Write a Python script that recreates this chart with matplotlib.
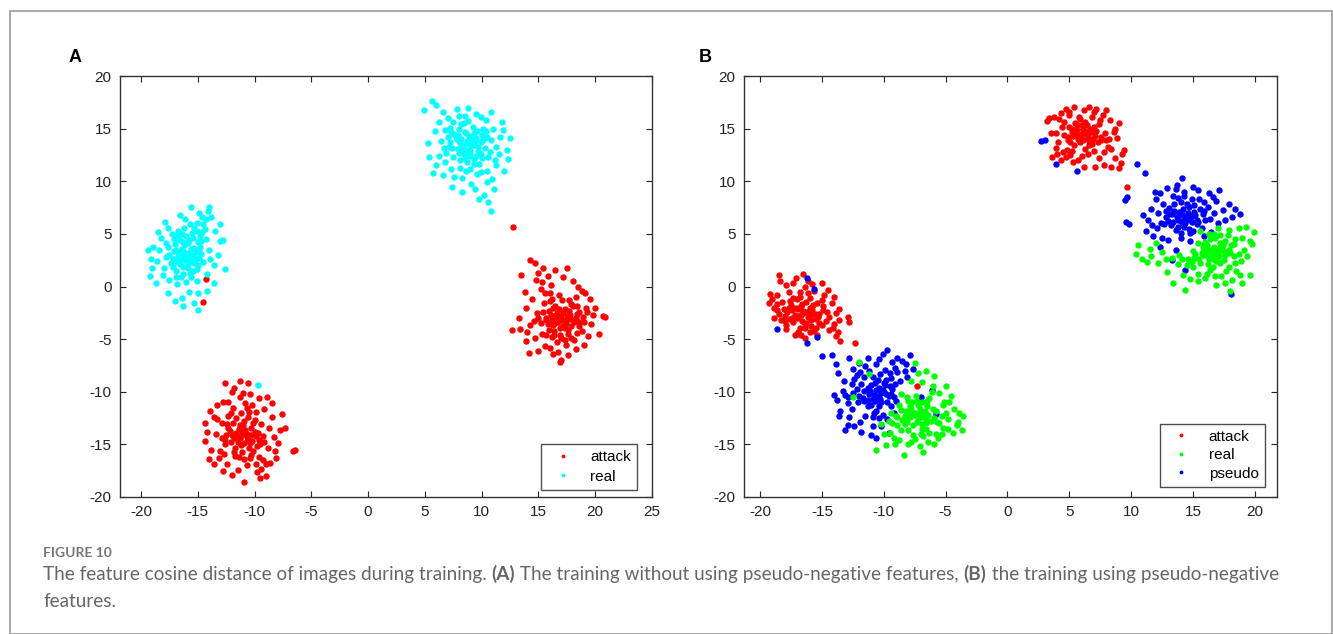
import numpy as np
import matplotlib
matplotlib.use('Agg')
import matplotlib.pyplot as plt
from matplotlib.patches import Rectangle

# ===== 数据：各簇散点 =====
# (A) 不使用伪负特征
a_real = [(-16.0,3.0),(-15.6,2.4),(-16.4,3.6),(-15.2,3.3),(-16.8,2.7),(-15.9,4.1),(-16.3,1.9),(-15.0,2.0),(-17.1,3.4),(-15.4,4.6),
          (-16.6,4.4),(-14.8,3.8),(-17.4,2.2),(-15.7,1.3),(-16.9,1.5),(-14.6,5.2),(-14.3,6.4),(-14.1,7.2),(-14.0,7.6),(-14.5,5.9),
          (-15.1,6.0),(-16.2,5.6),(-17.3,5.0),(-17.8,4.1),(-18.4,3.5),(-18.9,3.8),(-19.4,3.5),(-18.6,2.4),(-19.0,1.8),(-18.1,1.1),
          (-17.5,0.6),(-16.8,0.2),(-16.0,0.4),(-15.1,0.5),(-14.2,1.2),(-13.6,2.0),(-13.2,3.0),(-13.0,4.3),(-13.5,5.3),(-13.8,6.6),
          (-15.6,7.6),(-16.6,6.8),(-17.9,6.1),(-18.5,5.2),(-19.1,2.6),(-18.7,0.3),(-17.6,-0.6),(-16.4,-1.1),(-15.3,-1.6),(-15.0,-2.2),
          (-15.8,-0.5),(-14.2,-0.4),(-13.6,0.3),(-12.6,1.7),(-12.8,4.4),(-13.0,5.9),(-16.3,-1.9),(-17.0,-1.4),(-19.2,1.0),(-15.5,5.1),
          (-16.7,5.3),(-15.3,3.7),(-16.1,2.5),(-15.8,3.2),(-16.5,2.9),(-15.5,2.7),(-16.2,3.9),(-14.9,2.7),(-17.0,4.0),(-15.9,1.8),
          (-15.3,2.2),(-16.6,2.1),(-17.5,3.0),(-14.7,3.1),(-16.0,4.8),(-15.0,4.2),(-16.9,3.5),(-16.3,1.2),(-15.4,1.5),(-14.5,2.3),
          (-17.8,2.8),(-16.7,4.9),(-15.7,5.9),(-14.8,4.8),(-17.2,1.9),(-15.6,0.9),(-14.0,3.5),(-16.5,0.9),(-17.6,3.8),(-15.1,5.3),
          (-14.3,4.5),(-16.9,0.9),(-13.9,2.6),(-18.0,1.8),(-15.0,-0.6),(-17.6,5.6),(-14.6,6.6),(-14.9,7.0),(-16.1,6.4),(-18.2,4.6),
          (8.6,13.5),(8.2,14.0),(9.0,13.0),(8.9,14.3),(7.9,13.1),(9.4,13.8),(8.4,12.6),(7.6,14.5),(9.7,12.9),(8.0,15.0),
          (9.2,15.2),(10.0,14.4),(7.2,13.7),(10.3,13.2),(8.7,11.8),(7.5,12.3),(9.8,11.6),(6.8,14.9),(6.4,13.8),(7.0,16.0),
          (6.0,17.2),(5.6,17.6),(4.9,16.8),(6.6,16.6),(7.8,16.9),(8.8,17.0),(9.5,16.4),(10.4,15.8),(11.0,15.0),(11.6,14.2),
          (12.5,14.1),(12.2,13.0),(11.5,12.6),(11.3,11.5),(12.0,11.0),(10.9,10.2),(11.1,9.3),(10.5,9.9),(10.2,8.7),(10.6,8.0),
          (10.8,7.2),(9.6,10.7),(9.1,9.7),(8.3,10.3),(7.4,9.5),(6.6,10.6),(6.0,11.5),(5.7,10.8),(6.2,12.4),(5.3,13.6),
          (5.9,14.8),(7.3,11.2),(8.6,11.0),(9.9,10.9),(12.3,12.1),(11.8,15.6),(10.8,16.6),(7.5,15.6),(8.5,16.2),(9.3,12.1),
          (8.1,12.0),(10.6,12.3),(10.1,15.0),(6.9,12.7),(8.5,14.7),(9.1,14.0),(8.0,13.8),(9.6,14.8),(8.9,12.4),(7.7,14.2),
          (8.3,13.2),(9.3,13.4),(8.8,12.9),(7.9,14.4),(8.4,15.5),(9.9,13.7),(10.5,14.2),(7.4,13.2),(9.5,12.4),(8.1,11.3),
          (10.8,13.9),(9.0,11.2),(7.0,14.2),(6.2,15.6),(10.5,11.0),(11.3,13.3),(7.6,10.4),(9.9,16.1),(8.0,16.2),(6.8,11.8),
          (11.9,14.9),(9.4,9.3),(5.4,12.3),(6.7,13.2),(10.0,12.2),(8.8,15.7),(7.2,15.1),(11.2,12.0),(8.3,9.0),(9.8,8.3),
          (-9.7,-9.4)]
a_real_core = [(-15.7,2.8),(-16.2,3.3),(-15.4,3.0),(-16.0,2.5),(-16.4,2.6),(-15.6,3.6),(-15.2,2.6),(-16.7,3.2),(-15.8,4.4),(-16.3,4.2),
               (-14.9,3.4),(-15.9,2.1),(-16.8,2.3),(-15.1,1.7),(-14.7,4.3),(-17.2,2.6),(-16.4,5.0),(-15.3,5.6),(-14.4,5.5),(-17.1,4.5),
               (8.7,13.8),(9.1,13.4),(8.4,13.0),(9.5,14.1),(8.1,13.6),(9.0,12.6),(9.7,13.3),(8.6,14.6),(8.0,12.7),(10.1,13.9),
               (9.3,14.6),(7.8,14.0),(9.9,12.6),(8.5,12.2),(7.3,14.7),(10.4,14.8),(7.1,13.3),(9.3,11.6),(10.7,12.8),(8.2,15.4)]

a_attack = [(-11.0,-14.0),(-11.4,-13.5),(-10.6,-14.6),(-11.8,-14.4),(-10.3,-13.4),(-11.2,-15.1),(-10.9,-12.8),(-12.2,-13.7),(-9.9,-14.2),(-11.6,-12.5),
            (-10.1,-15.6),(-12.6,-15.0),(-12.9,-13.0),(-9.4,-13.1),(-10.5,-11.9),(-11.9,-11.5),(-13.4,-14.0),(-13.6,-12.4),(-14.2,-13.8),(-13.8,-15.5),
            (-13.1,-16.3),(-12.4,-16.9),(-11.5,-17.4),(-10.7,-17.0),(-9.8,-17.6),(-9.0,-18.0),(-10.9,-18.6),(-9.3,-16.5),(-8.6,-16.8),(-8.8,-15.3),
            (-8.3,-14.3),(-7.8,-13.6),(-8.5,-12.4),(-9.2,-11.6),(-9.6,-10.6),(-10.4,-10.2),(-11.3,-10.5),(-12.0,-10.0),(-12.8,-11.0),(-13.9,-11.8),
            (-12.6,-9.2),(-11.3,-9.0),(-10.6,-9.2),(-8.9,-10.5),(-7.6,-12.1),(-7.3,-13.4),(-7.9,-14.9),(-8.1,-16.3),(-6.4,-15.5),(-6.6,-15.6),
            (-12.0,-17.9),(-14.0,-16.4),(-14.4,-13.0),(-12.3,-12.3),(-10.0,-12.7),(-9.5,-15.0),(-11.7,-16.1),(-10.4,-16.3),(-12.9,-14.4),(-11.0,-13.2),
            (-10.7,-14.0),(-11.5,-14.8),(-10.2,-14.7),(-11.9,-13.0),(-9.7,-13.9),(-10.8,-11.1),(-12.5,-14.1),(-9.9,-16.9),(-13.3,-11.3),
            (-10.8,-13.6),(-11.6,-13.9),(-10.4,-14.9),(-11.3,-14.4),(-10.0,-13.8),(-12.1,-14.8),(-11.1,-15.7),(-10.6,-12.4),(-12.4,-13.1),(-9.6,-14.6),
            (-11.8,-15.7),(-9.2,-14.8),(-12.1,-12.0),(-10.9,-16.4),(-13.0,-15.6),(-10.2,-11.3),(-13.3,-12.6),(-8.7,-13.4),(-9.9,-11.9),(-12.8,-17.5),
            (-9.5,-18.2),(-8.2,-15.6),(-11.0,-10.1),(-9.0,-16.9),(-13.6,-16.9),(-8.5,-11.1),(-12.3,-11.0),(-9.4,-17.3),(-14.4,-14.7),(-11.8,-9.6),
            (17.0,-3.0),(16.6,-2.5),(17.4,-3.5),(16.2,-3.2),(17.8,-2.7),(16.9,-3.9),(17.3,-2.1),(16.4,-4.2),(18.1,-3.4),(15.9,-2.3),
            (17.6,-4.5),(16.0,-1.4),(15.6,-0.6),(15.3,0.4),(15.0,1.3),(14.7,2.2),(14.3,2.5),(15.4,1.8),(16.1,0.1),(16.8,-0.8),
            (17.7,-1.3),(18.4,-1.9),(18.5,0.0),(18.0,0.5),(19.1,-0.6),(19.3,-2.4),(20.0,-2.0),(20.7,-2.8),(19.6,-3.6),(19.4,-4.7),
            (19.0,-5.6),(18.3,-5.9),(17.6,-6.5),(17.0,-7.0),(16.3,-6.4),(15.6,-5.7),(15.0,-6.1),(14.2,-6.3),(14.7,-4.9),(14.0,-4.3),
            (13.4,-4.0),(12.7,-4.1),(13.3,-3.0),(13.9,-2.0),(14.4,-1.2),(13.8,-0.5),(13.5,1.1),(15.2,-3.5),(15.7,-4.6),(16.6,-5.3),
            (17.9,-4.9),(18.8,-4.2),(18.9,-2.9),(16.5,1.6),(17.5,1.8),(19.5,-1.2),(20.3,-4.5),(16.9,-7.2),(14.9,-2.5),(15.5,-1.6),
            (16.4,-2.8),(17.2,-2.5),(16.7,-3.4),(17.5,-3.1),(16.3,-2.0),(16.9,-4.6),(18.0,-1.9),(15.7,-3.0),(18.6,-3.8),(20.9,-2.9),
            (16.8,-2.8),(17.3,-3.9),(16.3,-3.7),(17.7,-2.3),(16.5,-1.9),(18.3,-3.0),(15.8,-3.6),(17.0,-4.9),(17.9,-3.8),(15.4,-2.4),
            (16.2,-4.8),(18.6,-2.4),(16.0,-0.6),(15.2,-0.2),(17.4,-5.6),(19.0,-3.4),(14.6,-3.3),(18.3,-1.0),(16.7,-6.2),(14.8,0.6),
            (17.1,-1.3),(19.8,-2.7),(15.3,-4.5),(18.1,-5.1),(14.3,-3.7),(15.8,1.0),(18.8,-0.4),(16.0,-5.8),(17.2,0.9),(13.9,-5.2),
            (12.8,5.7),(-14.3,0.7),(-14.5,-1.5)]
a_attack_core = [(-11.1,-13.8),(-10.7,-14.3),(-11.5,-14.2),(-10.9,-14.9),(-11.3,-13.2),(-10.3,-14.1),(-12.0,-14.1),(-10.5,-15.3),(-11.7,-15.3),(-10.1,-13.0),
                 (-12.3,-13.4),(-9.8,-15.2),(-11.4,-16.2),(-10.3,-16.0),(-12.6,-14.6),(-9.3,-14.2),(-11.2,-12.0),(-12.7,-15.9),(-9.6,-16.2),(-10.7,-11.5),
                 (17.1,-3.2),(16.7,-3.0),(17.5,-2.8),(16.5,-3.5),(17.2,-3.8),(17.9,-3.1),(16.1,-2.7),(16.8,-2.1),(17.6,-4.1),(16.4,-4.6),
                 (18.4,-2.6),(15.7,-3.2),(17.9,-1.7),(15.9,-4.1),(18.6,-3.4),(16.2,-1.2),(17.3,-5.1),(19.2,-2.0),(15.0,-3.0),(18.4,-4.4)]

# (B) 使用伪负特征
b_attack = [(-16.5,-2.5),(-16.9,-2.1),(-16.1,-2.9),(-17.2,-2.7),(-15.8,-2.2),(-16.6,-3.3),(-17.5,-1.8),(-15.5,-3.1),(-16.3,-1.5),(-17.8,-2.4),
            (-15.2,-2.6),(-16.8,-3.9),(-18.2,-1.5),(-18.6,-0.8),(-19.2,-0.7),(-18.9,-2.0),(-18.3,-3.2),(-17.9,-4.0),(-17.2,-4.6),(-16.4,-4.9),
            (-15.6,-4.2),(-15.0,-3.7),(-14.4,-4.1),(-13.7,-4.3),(-13.6,-3.2),(-13.6,-2.1),(-14.2,-1.6),(-14.8,-0.8),(-15.6,-0.4),(-16.4,0.0),
            (-17.3,0.3),(-17.9,0.1),(-18.5,1.1),(-16.5,1.2),(-16.1,0.5),(-15.0,0.3),(-14.5,-0.3),(-19.3,-1.6),(-18.0,-3.3),(-17.0,-1.2),
            (-16.0,-1.1),(-14.9,-1.9),(-14.4,-2.9),(-15.9,-3.8),(-16.9,-4.3),(-18.5,-2.6),(-17.6,-3.1),(-15.4,-1.6),(-14.0,-3.6),(-13.9,-4.7),
            (-16.7,-1.9),(-16.2,-2.4),(-17.0,-3.0),(-15.9,-2.7),(-16.4,-3.6),(-17.4,-2.2),
            (-16.7,-2.7),(-16.0,-2.0),(-17.3,-3.4),(-15.5,-2.6),(-17.6,-1.4),(-16.4,-3.9),(-15.2,-3.5),(-18.1,-2.1),(-16.8,-1.0),(-15.0,-1.3),
            (-17.0,-4.5),(-18.6,-1.7),(-14.6,-2.4),(-16.1,-0.6),(-17.7,-0.5),(-14.1,-3.9),(-18.9,-3.0),(-15.4,-4.6),(-17.1,0.8),(-14.0,-1.0),
            (-18.4,0.5),(-16.7,-4.6),(-13.9,-2.5),(-19.0,-1.2),(-15.8,0.2),
            (-12.9,-2.9),(-12.8,-3.4),(-13.5,-5.2),(-12.3,-5.4),(-7.3,-9.5),(9.7,9.5),
            (6.0,14.5),(5.6,14.9),(6.4,14.1),(5.3,14.3),(6.7,15.0),(5.9,13.7),(6.3,15.6),(5.0,15.2),(7.1,14.3),(5.4,13.4),
            (6.8,13.5),(4.6,14.4),(7.4,15.4),(4.2,15.9),(3.8,16.1),(3.2,15.7),(3.5,14.6),(4.1,13.7),(4.5,12.8),(3.6,12.3),
            (4.3,12.0),(5.1,12.5),(5.7,12.0),(6.5,12.6),(6.2,11.4),(7.1,11.4),(7.8,11.5),(8.4,11.4),(9.0,11.3),(8.7,12.2),
            (9.3,12.6),(8.4,13.1),(7.8,12.8),(7.6,13.9),(8.2,14.0),(8.6,14.7),(9.0,15.5),(8.3,15.8),(7.7,16.3),(7.0,16.6),
            (6.2,16.8),(5.4,17.1),(4.7,16.9),(5.0,16.3),(4.3,16.5),(5.8,16.1),(7.2,16.9),(8.7,15.0),(3.9,13.2),(9.4,13.0),
            (5.7,14.0),(6.5,14.7),(6.1,13.9),(5.5,15.5),(6.9,14.0),(4.8,13.0),(6.0,15.3),
            (6.2,14.8),(5.7,14.2),(6.6,13.8),(5.2,15.0),(7.0,15.2),(5.9,15.9),(4.9,13.9),(7.3,13.7),(6.3,13.1),(4.4,15.2),
            (7.9,14.6),(5.0,16.6),(6.8,16.1),(3.9,14.6),(8.1,13.3),(6.0,12.4),(4.7,12.3),(7.4,12.2),(8.9,14.1),(3.4,16.0),
            (6.6,17.1),(8.0,16.8),(5.3,11.8),(9.2,11.7),(4.0,12.6)]
b_attack_core = [(-16.5,-2.3),(-16.9,-2.8),(-16.1,-2.5),(-17.1,-2.0),(-15.9,-3.2),(-16.6,-1.7),(-17.4,-3.0),(-15.7,-1.8),(-16.3,-3.5),(-17.7,-2.0),
                 (-15.3,-2.9),(-17.3,-1.1),(-18.0,-2.8),(-15.5,-3.9),(-16.8,-0.5),(-14.9,-2.2),(-17.9,-3.7),(-14.7,-3.3),(-18.6,-2.2),(-16.0,-4.3),
                 (5.9,14.4),(6.3,14.6),(5.5,14.6),(6.1,15.0),(6.5,14.3),(5.8,13.9),(6.8,14.7),(5.2,14.7),(6.4,15.3),(5.6,15.3),
                 (7.2,14.8),(6.6,13.4),(5.1,13.7),(7.6,14.2),(4.6,15.6),(7.5,15.8),(5.2,12.9),(8.0,13.9),(4.9,14.2),(7.0,12.9)]

b_real = [(-7.5,-12.0),(-7.1,-11.6),(-7.9,-12.4),(-6.8,-12.3),(-8.2,-11.8),(-7.3,-12.9),(-6.5,-11.4),(-8.5,-12.7),(-7.7,-11.0),(-6.2,-12.8),
          (-8.8,-11.3),(-6.9,-13.5),(-8.0,-13.6),(-5.8,-11.8),(-9.0,-12.3),(-7.4,-10.4),(-6.3,-10.6),(-5.5,-10.1),(-5.0,-9.5),(-4.6,-10.4),
          (-4.3,-11.6),(-3.6,-12.3),(-4.1,-13.2),(-4.4,-13.9),(-5.2,-13.4),(-5.6,-14.4),(-6.4,-14.8),(-7.1,-15.2),(-8.0,-15.0),(-8.8,-14.6),
          (-9.8,-15.1),(-10.6,-15.5),(-9.5,-13.9),(-10.2,-13.1),(-9.6,-12.8),(-8.6,-10.2),(-7.8,-9.0),(-7.2,-8.2),(-7.5,-7.3),(-6.6,-8.0),
          (-5.9,-8.5),(-6.0,-9.5),(-5.3,-12.3),(-4.8,-12.6),(-4.0,-12.9),(-3.7,-13.6),(-6.8,-14.2),(-7.6,-14.1),(-5.9,-15.0),(-8.4,-16.0),
          (-11.2,-8.3),(-12.0,-7.2),(-12.5,-10.5),(-6.9,-11.0),(-7.2,-12.5),(-7.9,-11.4),(-6.6,-13.0),(-8.3,-13.1),(-5.1,-11.0),(-9.2,-14.4),
          (-7.6,-12.2),(-7.0,-11.9),(-8.1,-12.9),(-6.6,-12.7),(-7.8,-11.6),(-6.9,-13.1),(-6.0,-11.6),(-8.6,-11.7),(-7.3,-10.9),(-5.7,-12.9),
          (-8.9,-13.2),(-6.3,-13.9),(-7.5,-14.5),(-5.2,-11.3),(-9.4,-12.0),(-4.8,-13.5),(-6.1,-10.0),(-8.1,-10.5),(-5.3,-14.0),(-9.1,-15.0),
          (-3.9,-12.0),(-6.9,-9.1),(-4.7,-11.0),(-10.0,-14.0),(-6.8,-15.7),
          (16.5,3.5),(16.9,3.1),(16.1,3.9),(17.3,3.7),(15.7,3.2),(16.6,2.6),(17.6,4.3),(15.4,4.1),(16.2,2.1),(18.0,3.2),
          (15.1,2.7),(17.2,2.2),(18.4,4.5),(17.9,5.4),(18.7,5.6),(19.3,5.7),(19.6,4.3),(19.1,3.5),(18.9,2.4),(18.5,1.5),
          (18.2,0.6),(17.6,0.3),(16.8,1.0),(16.0,0.8),(15.4,1.2),(14.8,0.7),(14.4,-0.3),(13.4,0.3),(12.9,1.4),(12.2,2.2),
          (11.6,2.9),(10.9,2.6),(10.4,3.1),(10.6,3.9),(11.5,3.6),(12.5,3.3),(13.8,2.1),(14.6,2.6),(15.0,1.9),(19.0,0.3),
          (19.6,1.1),(18.0,-0.4),(17.0,5.6),(16.3,5.0),(15.6,5.3),(19.8,4.0),(17.7,1.5),(16.4,1.6),(13.3,2.7),(12.0,4.1),
          (16.7,3.8),(17.1,2.9),(16.0,3.0),(17.5,3.4),(15.8,3.8),(16.8,4.6),(18.3,2.9),
          (16.4,3.3),(17.0,3.6),(15.9,3.5),(17.6,3.0),(16.3,2.6),(17.2,4.1),(15.5,2.6),(18.1,3.9),(16.6,1.9),(15.0,3.4),
          (18.4,2.2),(17.8,4.9),(14.5,2.0),(19.0,4.6),(16.7,5.0),(13.9,3.0),(17.3,1.0),(19.4,2.9),(15.4,0.5),(18.8,1.1),
          (12.8,2.6),(16.9,0.1),(11.3,2.3),(14.2,1.1),(19.9,5.2)]
b_real_core = [(-7.4,-12.1),(-7.0,-12.4),(-7.8,-12.0),(-6.7,-11.8),(-7.2,-11.3),(-8.3,-12.3),(-6.4,-12.2),(-7.6,-13.2),(-6.6,-13.5),(-8.6,-13.6),
               (-5.9,-12.5),(-7.0,-14.0),(-8.0,-10.9),(-5.5,-13.0),(-6.5,-10.9),(-9.3,-13.0),(-5.0,-12.0),(-7.8,-14.8),(-5.8,-14.0),(-8.9,-12.4),
               (16.6,3.3),(16.2,3.5),(17.0,3.3),(16.5,2.9),(17.4,3.9),(15.8,3.0),(16.9,2.4),(16.0,4.2),(17.9,3.5),(15.2,3.1),
               (17.5,2.5),(16.4,4.5),(18.3,4.0),(15.6,2.2),(18.7,3.1),(14.9,2.3),(17.2,4.9),(17.9,1.9),(14.1,2.6),(16.1,1.2)]

b_pseudo = [(-10.0,-10.0),(-10.4,-9.6),(-9.6,-10.4),(-10.8,-10.3),(-9.3,-9.7),(-10.2,-11.0),(-11.0,-9.4),(-9.8,-8.9),(-11.3,-10.8),(-9.0,-10.9),
            (-10.6,-11.8),(-11.6,-9.9),(-10.9,-8.6),(-9.5,-8.2),(-8.7,-9.0),(-8.3,-8.0),(-8.5,-7.1),(-9.3,-7.2),(-10.1,-6.4),(-10.6,-7.4),
            (-11.5,-7.6),(-12.2,-8.4),(-12.6,-9.3),(-13.3,-9.9),(-13.8,-10.8),(-13.5,-11.8),(-12.8,-12.4),(-12.4,-13.3),(-11.8,-13.8),(-11.0,-14.1),
            (-10.6,-14.4),(-10.2,-13.3),(-11.5,-12.3),(-12.1,-11.0),(-12.9,-10.5),(-12.0,-7.3),(-12.8,-6.8),(-13.9,-7.4),(-14.2,-6.5),(-15.0,-6.6),
            (-7.9,-6.5),(-8.9,-6.8),(-7.6,-7.8),(-12.4,-8.8),(-13.1,-13.6),(-11.3,-11.4),(-10.4,-12.5),(-9.2,-12.0),(-8.1,-8.6),(-9.7,-6.0),
            (-11.2,-8.0),(-10.3,-8.3),(-11.7,-10.6),(-10.7,-10.9),(-9.9,-9.4),(-10.5,-10.4),(-11.1,-9.9),(-9.4,-11.4),(-12.5,-10.1),(-13.6,-12.3),
            (-10.1,-9.8),(-10.7,-9.2),(-9.4,-10.2),(-11.2,-10.2),(-9.7,-11.0),(-10.4,-11.4),(-11.8,-9.3),(-9.1,-9.3),(-10.9,-12.4),(-12.0,-10.4),
            (-9.9,-7.9),(-11.6,-8.6),(-8.9,-8.1),(-12.6,-11.6),(-12.5,-7.8),(-10.9,-13.3),(-13.2,-9.0),(-11.9,-12.9),(-9.7,-12.6),(-8.2,-7.4),
            (-13.7,-8.2),(-11.3,-6.8),(-10.4,-6.9),(-12.9,-13.2),(-14.0,-10.3),
            (-7.0,-10.5),(-6.1,-9.8),(-5.8,-12.1),(-9.6,-13.9),(-18.6,-4.0),(-16.2,-5.4),(-15.4,-4.8),(-15.6,-0.2),(-16.2,0.8),
            (14.5,6.5),(14.1,6.9),(14.9,6.1),(13.8,6.3),(15.2,6.8),(14.3,5.7),(13.5,7.2),(15.6,7.4),(14.7,7.6),(13.2,5.8),
            (15.0,5.3),(14.0,8.0),(16.0,6.3),(12.8,6.6),(15.5,8.3),(12.6,7.8),(13.4,8.6),(14.3,9.0),(14.1,10.3),(15.4,9.2),
            (16.3,8.9),(16.9,8.1),(17.4,7.3),(17.9,7.8),(18.2,6.6),(18.8,6.9),(17.0,6.0),(16.5,5.2),(12.0,8.3),(11.6,7.4),
            (11.4,6.3),(11.2,5.3),(11.8,4.8),(12.3,3.8),(13.0,4.4),(13.6,3.5),(13.3,2.5),(14.0,4.6),(12.1,5.6),(11.0,6.8),
            (12.9,9.4),(11.9,9.0),(10.5,11.6),(11.1,10.8),(9.7,8.5),(9.5,8.2),(9.6,6.1),(9.8,5.9),(14.4,1.6),(17.1,9.2),
            (13.7,9.6),(15.9,4.8),(14.8,4.3),(13.1,6.9),(14.4,6.0),(13.9,7.1),(15.3,5.9),(14.6,7.0),(13.6,5.4),(15.1,7.7),
            (14.4,6.3),(14.9,6.7),(13.9,6.8),(15.3,6.3),(14.2,7.4),(13.4,6.1),(15.8,6.9),(14.7,5.5),(13.1,7.5),(16.2,7.6),
            (12.7,5.9),(14.9,8.3),(15.7,5.6),(13.8,8.4),(12.2,7.0),(16.7,7.0),(12.5,4.6),(14.0,5.1),(17.6,6.3),(13.6,9.3),
            (11.7,5.8),(16.6,8.5),(15.0,9.5),(12.3,8.9),(18.4,7.4),
            (18.1,-0.7),(16.0,4.0),(2.7,13.8),(3.0,13.9),(3.9,11.6),(5.6,11.0)]
b_pseudo_core = [(-10.2,-10.1),(-10.6,-9.8),(-9.8,-10.2),(-10.9,-10.7),(-9.5,-9.5),(-10.3,-10.7),(-11.3,-9.6),(-10.0,-9.2),(-11.0,-11.3),(-9.2,-10.5),
                 (-11.6,-10.9),(-10.5,-8.9),(-9.4,-8.7),(-12.2,-9.7),(-10.8,-12.0),(-11.9,-8.1),(-9.1,-7.7),(-12.9,-11.1),(-10.1,-12.2),(-13.1,-10.3),
                 (14.4,6.5),(14.8,6.3),(14.0,6.2),(14.6,6.9),(13.7,6.6),(15.1,7.1),(14.2,5.9),(13.3,6.9),(15.4,6.1),(14.5,7.8),
                 (13.5,7.8),(15.9,7.2),(13.0,6.2),(14.8,5.1),(12.8,7.2),(16.4,6.4),(13.8,5.7),(15.9,8.0),(12.4,6.0),(14.3,8.6)]

ticks_x_a = [-20, -15, -10, -5, 0, 5, 10, 15, 20, 25]
ticks_x_b = [-20, -15, -10, -5, 0, 5, 10, 15, 20]
ticks_y = [-20, -15, -10, -5, 0, 5, 10, 15, 20]

caption_title = 'FIGURE 10'
caption_parts = [('The feature cosine distance of images during training. ', 'normal'),
                 ('(A)', 'bold'),
                 (' The training without using pseudo-negative features, ', 'normal'),
                 ('(B)', 'bold'),
                 (' the training using pseudo-negative', 'normal')]
caption_line2 = 'features.'

RED = '#ff0000'
CYAN = '#00ffff'
GREEN = '#00ff00'
BLUE = '#0000ff'
MS = 4.6

fig = plt.figure(figsize=(13.33, 6.34), dpi=100)

# 外框
fig.patches.append(Rectangle((10/1333, 0), (1332-10)/1333, (634-11)/634, transform=fig.transFigure,
                             fill=False, edgecolor='#9a9a9a', linewidth=1.2))


def style_axes(ax, xlim, xticks):
    ax.set_xlim(*xlim)
    ax.set_ylim(-20, 20)
    ax.set_xticks(xticks)
    ax.set_yticks(ticks_y)
    ax.set_xticklabels([str(t) for t in xticks])
    ax.set_yticklabels([str(t) for t in ticks_y])
    ax.tick_params(direction='in', top=True, right=True, length=4, width=0.8,
                   labelsize=11, colors='#222222', pad=6)
    for lab in ax.get_xticklabels() + ax.get_yticklabels():
        lab.set_family('Liberation Sans')
    for s in ax.spines.values():
        s.set_color('#333333')
        s.set_linewidth(1.0)


def pts(*lists):
    arr = np.array([p for lst in lists for p in lst])
    return arr[:, 0], arr[:, 1]


leg_font = {'family': 'Liberation Sans', 'size': 11}

# 子图A
axA = fig.add_axes([120/1333, 1-497/634, (652-120)/1333, (497-76)/634])
x, y = pts(a_attack, a_attack_core)
axA.plot(x, y, 'o', color=RED, ms=MS, mew=0, label='attack')
x, y = pts(a_real, a_real_core)
axA.plot(x, y, 'o', color=CYAN, ms=MS, mew=0, label='real')
style_axes(axA, (-21.85, 25), ticks_x_a)
legA = axA.legend(loc='lower right', bbox_to_anchor=(0.972, 0.017), borderaxespad=0,
                  frameon=True, fancybox=False, edgecolor='#222222', handlelength=2.0,
                  markerscale=0.6, labelspacing=0.35, prop=leg_font)
legA.get_frame().set_linewidth(1.0)

# 子图B
axB = fig.add_axes([744/1333, 1-497/634, (1277-744)/1333, (497-76)/634])
x, y = pts(b_attack, b_attack_core)
hA = axB.plot(x, y, 'o', color=RED, ms=MS, mew=0, label='attack')[0]
x, y = pts(b_pseudo, b_pseudo_core)
hP = axB.plot(x, y, 'o', color=BLUE, ms=MS, mew=0, label='pseudo')[0]
x, y = pts(b_real, b_real_core)
hR = axB.plot(x, y, 'o', color=GREEN, ms=MS, mew=0, label='real')[0]
style_axes(axB, (-21.3, 21.8), ticks_x_b)
legB = axB.legend(handles=[hA, hR, hP], loc='lower right', bbox_to_anchor=(0.977, 0.024),
                  borderaxespad=0, frameon=True, fancybox=False, edgecolor='#222222',
                  handlelength=2.0, markerscale=0.6, labelspacing=0.3, prop=leg_font)
legB.get_frame().set_linewidth(1.0)

fig.text(75/1333, 1-57/634, 'A', fontsize=13, fontweight='bold', ha='center', va='center',
         family='Liberation Sans')
fig.text(705/1333, 1-57/634, 'B', fontsize=13, fontweight='bold', ha='center', va='center',
         family='Liberation Sans')

# 图注：先量宽度，再按参考图的行宽缩放字号
fig.text(43/1333, 1-553/634, caption_title, fontsize=10, fontweight='bold', color='#777777',
         va='center', family='Lato')
renderer = fig.canvas.get_renderer()
base = 14.0
total = 0
for txt, w in caption_parts:
    t = fig.text(0, 0, txt, fontsize=base, fontweight=w, family='Lato')
    total += t.get_window_extent(renderer=renderer).width
    t.remove()
cap_size = base * (1284 - 43) / total

xpos = 43
for txt, w in caption_parts:
    t = fig.text(xpos/1333, 1-580/634, txt, fontsize=cap_size, color='#666666', va='baseline',
                 fontweight=w, family='Lato')
    xpos += t.get_window_extent(renderer=renderer).width
fig.text(43/1333, 1-607/634, caption_line2, fontsize=cap_size, color='#666666', va='baseline',
         family='Lato')

fig.savefig('out.png', dpi=100)
